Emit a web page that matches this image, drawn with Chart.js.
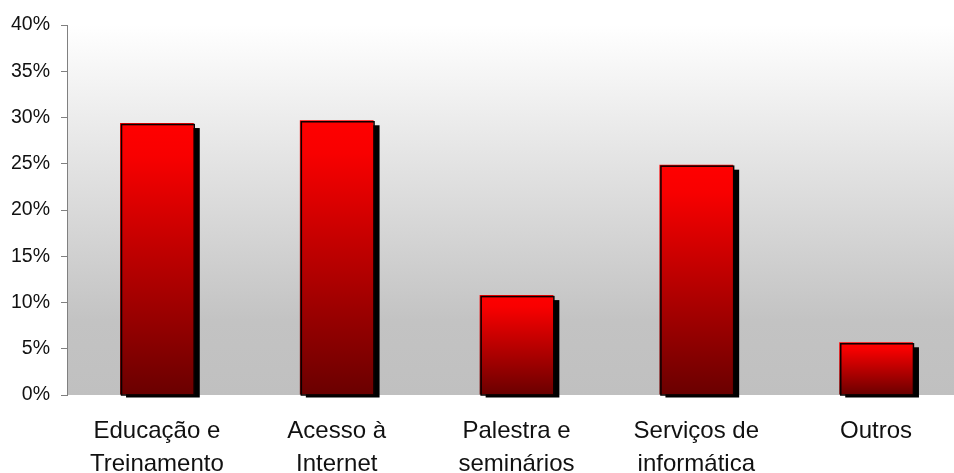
<!DOCTYPE html>
<html>
<head>
<meta charset="utf-8">
<script src="https://cdn.jsdelivr.net/npm/chart.js@4.4.1/dist/chart.umd.min.js"></script>
<style>
  html, body { margin: 0; padding: 0; background: #fff; overflow: hidden; }
  #wrap { width: 970px; height: 473px; }
</style>
</head>
<body>
<div id="wrap"><canvas id="chart" width="970" height="473"></canvas></div>
<script>
const categories = [
  ['Educação e', 'Treinamento'],
  ['Acesso à', 'Internet'],
  ['Palestra e', 'seminários'],
  ['Serviços de', 'informática'],
  ['Outros'],
];
const shares = [29.4, 29.7, 10.8, 24.9, 5.7];
const yTicks = [0, 5, 10, 15, 20, 25, 30, 35, 40];

const FONT = '"Liberation Sans", Arial, sans-serif';

// plot background: white at the top fading to grey
const plotBackground = {
  id: 'plotBackground',
  beforeDraw(chart) {
    const { ctx, chartArea: area } = chart;
    const grad = ctx.createLinearGradient(0, area.top, 0, area.bottom);
    grad.addColorStop(0, '#ffffff');
    grad.addColorStop(0.8, '#c3c3c3');
    grad.addColorStop(1, '#c0c0c0');
    ctx.save();
    ctx.fillStyle = grad;
    ctx.fillRect(area.left, area.top, area.right - area.left, area.bottom - area.top);
    ctx.restore();
  },
};

// solid black drop shadow behind each bar, black outline on top of it
const barFrame = {
  id: 'barFrame',
  beforeDatasetsDraw(chart) {
    const ctx = chart.ctx;
    ctx.save();
    ctx.fillStyle = '#000000';
    chart.getDatasetMeta(0).data.forEach((bar) => {
      const left = bar.x - bar.width / 2;
      ctx.fillRect(left + 6, bar.y + 5, bar.width, bar.base - bar.y - 2);
    });
    ctx.restore();
  },
  afterDatasetsDraw(chart) {
    const ctx = chart.ctx;
    ctx.save();
    ctx.strokeStyle = '#0a0000';
    ctx.lineWidth = 1.5;
    chart.getDatasetMeta(0).data.forEach((bar) => {
      const left = bar.x - bar.width / 2;
      ctx.strokeRect(left + 1.5, bar.y + 1.5, bar.width - 1, bar.base - bar.y - 1);
    });
    ctx.restore();
  },
};

function barGradient(context) {
  const chart = context.chart;
  const y = chart.scales.y;
  if (!y || !chart.chartArea) {
    return '#e00000';
  }
  const value = shares[context.dataIndex];
  const top = y.getPixelForValue(value);
  const bottom = y.getPixelForValue(0);
  const grad = chart.ctx.createLinearGradient(0, top, 0, bottom);
  grad.addColorStop(0, '#ff0000');
  grad.addColorStop(0.12, '#f80000');
  grad.addColorStop(1, '#6a0000');
  return grad;
}

new Chart(document.getElementById('chart'), {
  type: 'bar',
  data: {
    labels: categories,
    datasets: [{
      data: shares,
      backgroundColor: barGradient,
      borderWidth: 0,
      categoryPercentage: 1,
      barPercentage: 0.41,
      clip: false,
    }],
  },
  options: {
    responsive: false,
    animation: false,
    layout: {
      padding: { top: 25, right: 4, bottom: 0, left: 0 },
    },
    plugins: {
      legend: { display: false },
      tooltip: { enabled: false },
    },
    scales: {
      x: {
        grid: { display: false, drawTicks: false },
        border: { display: false },
        ticks: {
          color: '#111',
          padding: 20,
          maxRotation: 0,
          autoSkip: false,
          font: { family: FONT, size: 24, lineHeight: 1.375 },
        },
        afterFit(scale) {
          scale.height = 78;
        },
      },
      y: {
        min: 0,
        max: 40,
        afterBuildTicks(scale) {
          scale.ticks = yTicks.map((v) => ({ value: v }));
        },
        grid: {
          drawOnChartArea: false,
          drawTicks: true,
          tickLength: 6,
          color: '#808080',
        },
        border: { display: true, color: '#808080', width: 1 },
        ticks: {
          color: '#111',
          padding: 11,
          font: { family: FONT, size: 19.5 },
          callback: (v) => v + '%',
        },
        afterFit(scale) {
          scale.width = 67;
        },
      },
    },
  },
  plugins: [plotBackground, barFrame],
});
</script>
</body>
</html>
